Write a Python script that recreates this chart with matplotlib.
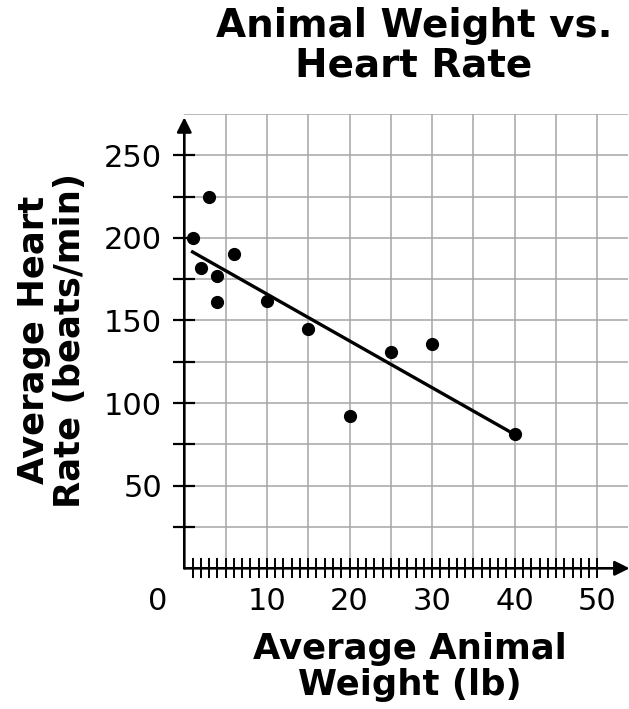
import matplotlib.pyplot as plt

# data
weight = [1, 2, 3, 4, 4, 6, 10, 15, 20, 25, 30, 40]
heart_rate = [200, 182, 225, 177, 161, 190, 162, 145, 92, 131, 136, 81]
trend_x = [1, 40]
trend_y = [191.5, 81]

x_ticks = list(range(1, 51))
x_labels = [str(v) if v % 10 == 0 else "" for v in x_ticks]
y_ticks = list(range(25, 251, 25))
y_labels = [str(v) if v % 50 == 0 else "" for v in y_ticks]
x_grid = list(range(5, 51, 5))
y_grid = list(range(25, 276, 25))

W, H = 629, 709
fig = plt.figure(figsize=(W / 100, H / 100), dpi=100)
ax = fig.add_axes([184.3 / W, (H - 568.3) / H, 443.6 / W, 454.3 / H])
ax.set_xlim(0, 53.7)
ax.set_ylim(0, 275)

# grid
ax.vlines(x_grid, 0, 275, color="#a6a6a6", lw=1.1, zorder=1)
ax.hlines(y_grid, 0, 53.7, color="#a6a6a6", lw=1.1, zorder=1)

for s in ax.spines.values():
    s.set_visible(False)

# axes with arrows
ax.annotate("", xy=(53.9, 0), xytext=(0, 0), annotation_clip=False,
            arrowprops=dict(arrowstyle="-|>", color="black", lw=1.9,
                            mutation_scale=22, shrinkA=0, shrinkB=0), zorder=4)
ax.annotate("", xy=(0, 273), xytext=(0, 0), annotation_clip=False,
            arrowprops=dict(arrowstyle="-|>", color="black", lw=1.9,
                            mutation_scale=22, shrinkA=0, shrinkB=0), zorder=4)

ax.set_xticks(x_ticks)
ax.set_xticklabels(x_labels)
ax.set_yticks(y_ticks)
ax.set_yticklabels(y_labels)
ax.tick_params(axis="x", direction="inout", length=15, width=1.4, pad=6, labelsize=22)
ax.tick_params(axis="y", direction="inout", length=16, width=1.6, pad=8, labelsize=22)

ax.annotate("0", xy=(0, 0), xytext=(-19, -24), textcoords="offset points",
            ha="center", va="center", fontsize=22, annotation_clip=False)

# trend line and points
ax.plot(trend_x, trend_y, color="black", lw=2.4, zorder=3)
ax.plot(weight, heart_rate, "o", color="black", ms=8.5, zorder=5, clip_on=False)

fig.text(414 / W, 1 - 7 / H, "Animal Weight vs.\nHeart Rate", ha="center", va="top",
         fontsize=28, fontweight="bold", linespacing=1.05)
fig.text(410 / W, (H - 667) / H, "Average Animal\nWeight (lb)", ha="center", va="center",
         fontsize=25.5, fontweight="bold", linespacing=1.05)
fig.text(52 / W, (H - 340) / H, "Average Heart\nRate (beats/min)", ha="center", va="center",
         rotation=90, fontsize=25.5, fontweight="bold", linespacing=1.05)

fig.savefig("out.png", dpi=100)
